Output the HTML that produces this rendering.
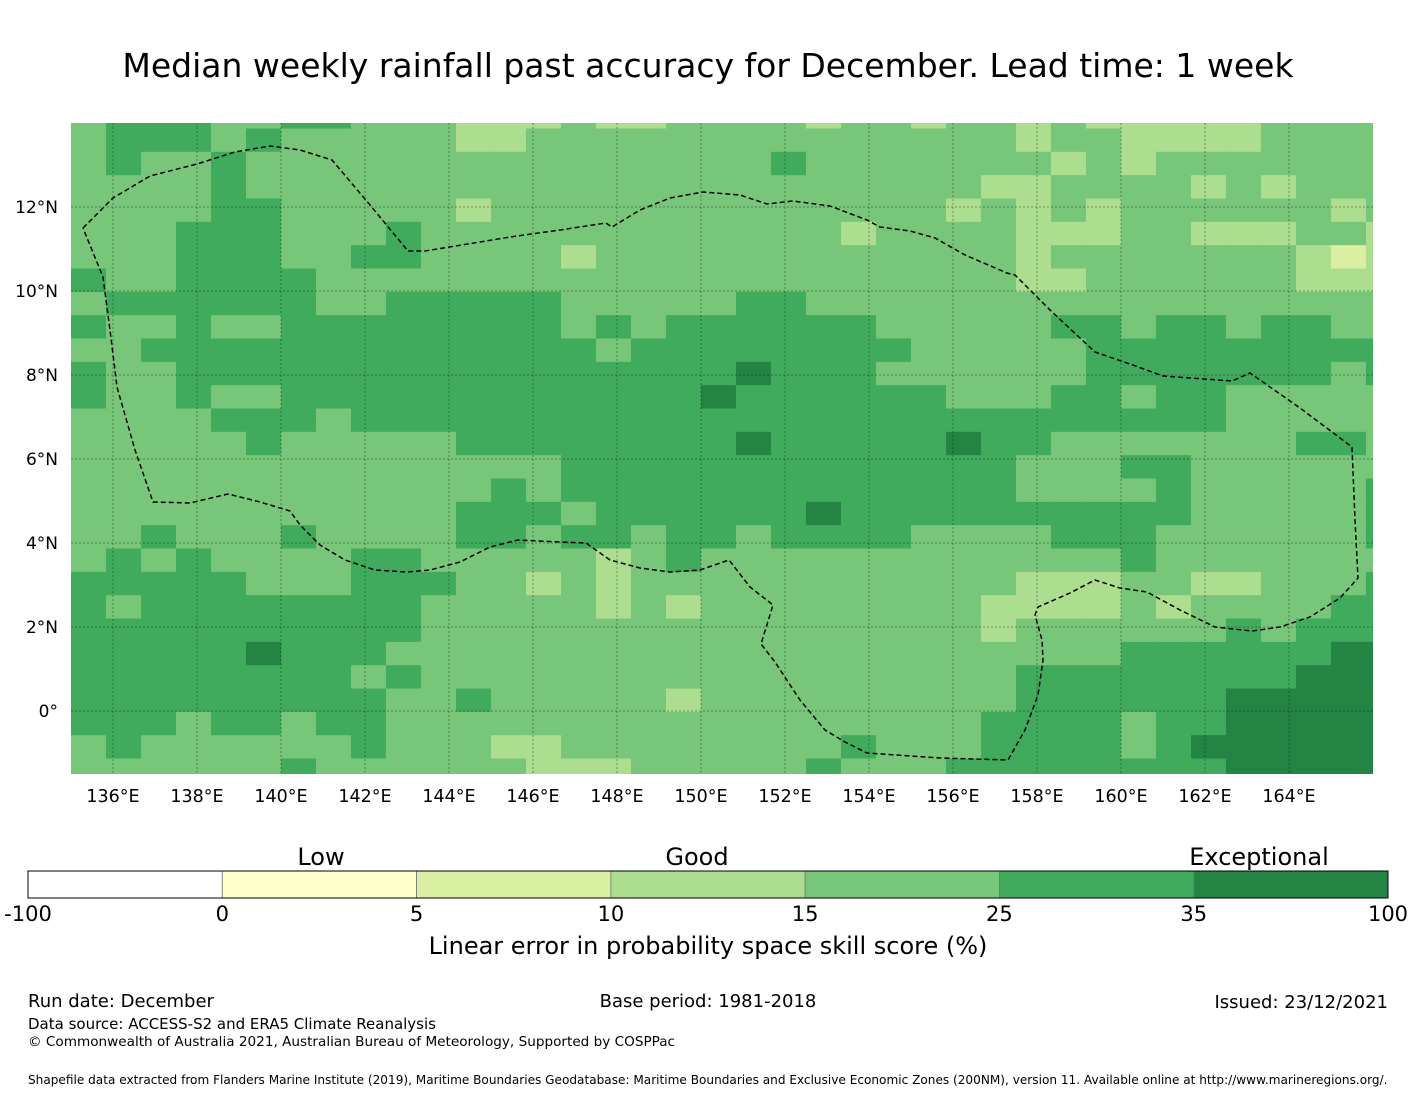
<!DOCTYPE html>
<html><head><meta charset="utf-8"><style>
body{margin:0;background:#fff;}
svg text{font-family:"DejaVu Sans","Liberation Sans",sans-serif;}
</style></head><body>
<svg id="chart" width="1416" height="1095" viewBox="0 0 1416 1095" xmlns="http://www.w3.org/2000/svg">
<rect width="1416" height="1095" fill="#fff"/>
<text x="708" y="77" font-size="33" text-anchor="middle">Median weekly rainfall past accuracy for December. Lead time: 1 week</text>
<defs><clipPath id="plotclip"><rect x="71" y="123" width="1302" height="651"/></clipPath></defs>
<g id="cells" clip-path="url(#plotclip)"></g>
<g id="grid"></g>
<polyline id="eez" fill="none" stroke="#000" stroke-width="1.5" stroke-dasharray="5,3" clip-path="url(#plotclip)"/>
<g id="xticks"></g>
<g id="yticks"></g>
<g id="cbar"></g>
<text x="321" y="865" font-size="24" text-anchor="middle">Low</text>
<text x="697" y="865" font-size="24" text-anchor="middle">Good</text>
<text x="1259" y="865" font-size="24" text-anchor="middle">Exceptional</text>
<text x="708" y="954" font-size="24" text-anchor="middle">Linear error in probability space skill score (%)</text>
<text x="28" y="1007" font-size="18">Run date: December</text>
<text x="708" y="1007" font-size="18" text-anchor="middle">Base period: 1981-2018</text>
<text x="1388" y="1008" font-size="18" text-anchor="end">Issued: 23/12/2021</text>
<text x="28" y="1029" font-size="15">Data source: ACCESS-S2 and ERA5 Climate Reanalysis</text>
<text x="28" y="1046" font-size="13.6">© Commonwealth of Australia 2021, Australian Bureau of Meteorology, Supported by COSPPac</text>
<text x="28" y="1084" font-size="12.1">Shapefile data extracted from Flanders Marine Institute (2019), Maritime Boundaries Geodatabase: Maritime Boundaries and Exclusive Economic Zones (200NM), version 11. Available online at http://www.marineregions.org/.</text>
</svg>
<script>
// skill category per grid cell, rows north->south, cols west->east (0.8333 x 0.5556 deg)
const rows = [
"3444334433322"+"232233332332"+"3323222223333",
"3444343333322"+"333333333333"+"3323322223333",
"3433433333333"+"333333343333"+"3332323333333",
"3333433333333"+"333333333333"+"3223333232333",
"3333443333323"+"333333333333"+"2323233333323",
"3334443334333"+"333333333233"+"3322233222332",
"3334443344333"+"323333333333"+"3323333333212",
"4334444333333"+"333333333333"+"3322333333222",
"3444444334444"+"433333443333"+"3333333333333",
"4334334444444"+"434344444433"+"3334434434433",
"3344444444444"+"443444444443"+"3333444444444",
"4334444444444"+"444444544433"+"3333444444434",
"4334334444444"+"444445444444"+"3334434433333",
"3333444344444"+"444444444444"+"4444444433333",
"3333343333344"+"444444544444"+"5443333333443",
"3333333333333"+"344444444444"+"4433344333333",
"3333333333334"+"344444444444"+"4433334333334",
"3333333333344"+"434444445444"+"4444444333334",
"3343334333344"+"344344344443"+"3334443333334",
"3434333344333"+"332343333333"+"3333343333333",
"4444433344433"+"232333333333"+"3322233223334",
"4344444444333"+"332323333333"+"3222232333344",
"4444444444333"+"333333333333"+"3233333343444",
"4444454443333"+"333333333333"+"3333344444455",
"4444444434333"+"333333333333"+"3344444444555",
"4444444443343"+"333323333333"+"3344444455555",
"4443443443333"+"333333333333"+"3444434455555",
"3433333343332"+"233333333433"+"3444434555555",
"3333334333333"+"222333334333"+"4444444455555"
];
const colors = ["#ffffcc","#d9f0a3","#addd8e","#78c679","#41ab5d","#238443"];
const lonStart = 135, dLon = 0.8333, latTop = 14.425, dLat = 0.5556;
const xTicks = [136,138,140,142,144,146,148,150,152,154,156,158,160,162,164];
const yTicks = [0,2,4,6,8,10,12];
const cbarLabels = ["-100","0","5","10","15","25","35","100"];
const cbarColors = ["#ffffff","#ffffcc","#d9f0a3","#addd8e","#78c679","#41ab5d","#238443"];
const NS="http://www.w3.org/2000/svg";
function xs(lon){return 71+(lon-135)*42;}
function ys(lat){return 711-lat*42;}
const cells=document.getElementById('cells');
rows.forEach((row,r)=>{
  for(let c=0;c<row.length;c++){
    const v=+row[c];
    const x0=xs(lonStart+c*dLon), x1=xs(lonStart+(c+1)*dLon);
    const y0=ys(latTop-r*dLat), y1=ys(latTop-(r+1)*dLat);
    const rc=document.createElementNS(NS,'rect');
    rc.setAttribute('x',x0);rc.setAttribute('y',y0);
    rc.setAttribute('width',x1-x0+0.6);rc.setAttribute('height',y1-y0+0.6);
    rc.setAttribute('fill',colors[v]);
    
    
    cells.appendChild(rc);
  }
});
const grid=document.getElementById('grid');
const xt=document.getElementById('xticks');
xTicks.forEach(t=>{
  const l=document.createElementNS(NS,'line');
  l.setAttribute('x1',xs(t));l.setAttribute('x2',xs(t));l.setAttribute('y1',123);l.setAttribute('y2',774);
  l.setAttribute('stroke','rgba(0,0,0,0.35)');l.setAttribute('stroke-dasharray','2,2');l.setAttribute('stroke-width','1');
  
  
  grid.appendChild(l);
  const tx=document.createElementNS(NS,'text');
  tx.setAttribute('x',xs(t));tx.setAttribute('y',802);tx.setAttribute('font-size','17.5');tx.setAttribute('text-anchor','middle');
  tx.textContent=t+'°E';
  
  
  xt.appendChild(tx);
});
const yt=document.getElementById('yticks');
yTicks.forEach(t=>{
  const l=document.createElementNS(NS,'line');
  l.setAttribute('x1',71);l.setAttribute('x2',1373);l.setAttribute('y1',ys(t));l.setAttribute('y2',ys(t));
  l.setAttribute('stroke','rgba(0,0,0,0.35)');l.setAttribute('stroke-dasharray','2,2');l.setAttribute('stroke-width','1');
  
  
  grid.appendChild(l);
  const tx=document.createElementNS(NS,'text');
  tx.setAttribute('x',58);tx.setAttribute('y',ys(t)+6);tx.setAttribute('font-size','17');tx.setAttribute('text-anchor','end');
  tx.textContent=t===0?'0°':t+'°N';
  
  
  yt.appendChild(tx);
});
const pts=[[83,228],[113,198],[150,176],[197,164],[235,152],[270,146],[300,150],[332,160],[370,205],[408,251],[425,251],[480,242],[510,237],[560,230],[606,223],[612,227],[640,210],[670,198],[703,192],[740,195],[767,204],[793,201],[830,206],[867,220],[880,227],[910,231],[935,238],[965,255],[1007,273],[1015,275],[1050,310],[1095,352],[1130,364],[1163,376],[1232,381],[1250,373],[1300,408],[1352,447],[1355,520],[1358,578],[1340,598],[1310,617],[1280,627],[1252,631],[1215,627],[1180,610],[1147,592],[1120,588],[1095,580],[1070,593],[1038,607],[1035,615],[1042,640],[1043,660],[1038,695],[1025,730],[1008,760],[940,758],[867,753],[845,742],[825,730],[800,700],[775,662],[761,644],[773,605],[750,587],[729,560],[700,570],[670,572],[640,568],[610,560],[586,543],[560,542],[518,540],[490,547],[460,562],[430,570],[407,572],[375,570],[345,560],[320,545],[300,525],[290,511],[260,502],[228,494],[190,503],[153,502],[135,450],[117,387],[110,330],[103,277],[83,228]];
document.getElementById('eez').setAttribute('points',pts.map(p=>p.join(',')).join(' '));
const cb=document.getElementById('cbar');
const cx0=28,cw=1360/7;
cbarColors.forEach((col,i)=>{
  const r=document.createElementNS(NS,'rect');
  r.setAttribute('x',cx0+i*cw);r.setAttribute('y',871);r.setAttribute('width',cw);r.setAttribute('height',27);
  r.setAttribute('fill',col);r.setAttribute('stroke','#777');r.setAttribute('stroke-width','0.8');
  
  
  cb.appendChild(r);
});
const frame=document.createElementNS(NS,'rect');
frame.setAttribute('x',cx0);frame.setAttribute('y',871);frame.setAttribute('width',1360);frame.setAttribute('height',27);
frame.setAttribute('fill','none');frame.setAttribute('stroke','#000');frame.setAttribute('stroke-width','1');


cb.appendChild(frame);
cbarLabels.forEach((lab,i)=>{
  const t=document.createElementNS(NS,'text');
  t.setAttribute('x',cx0+i*cw);t.setAttribute('y',921);t.setAttribute('font-size','21');t.setAttribute('text-anchor','middle');
  t.textContent=lab;
  
  
  cb.appendChild(t);
});
</script>
</body></html>
